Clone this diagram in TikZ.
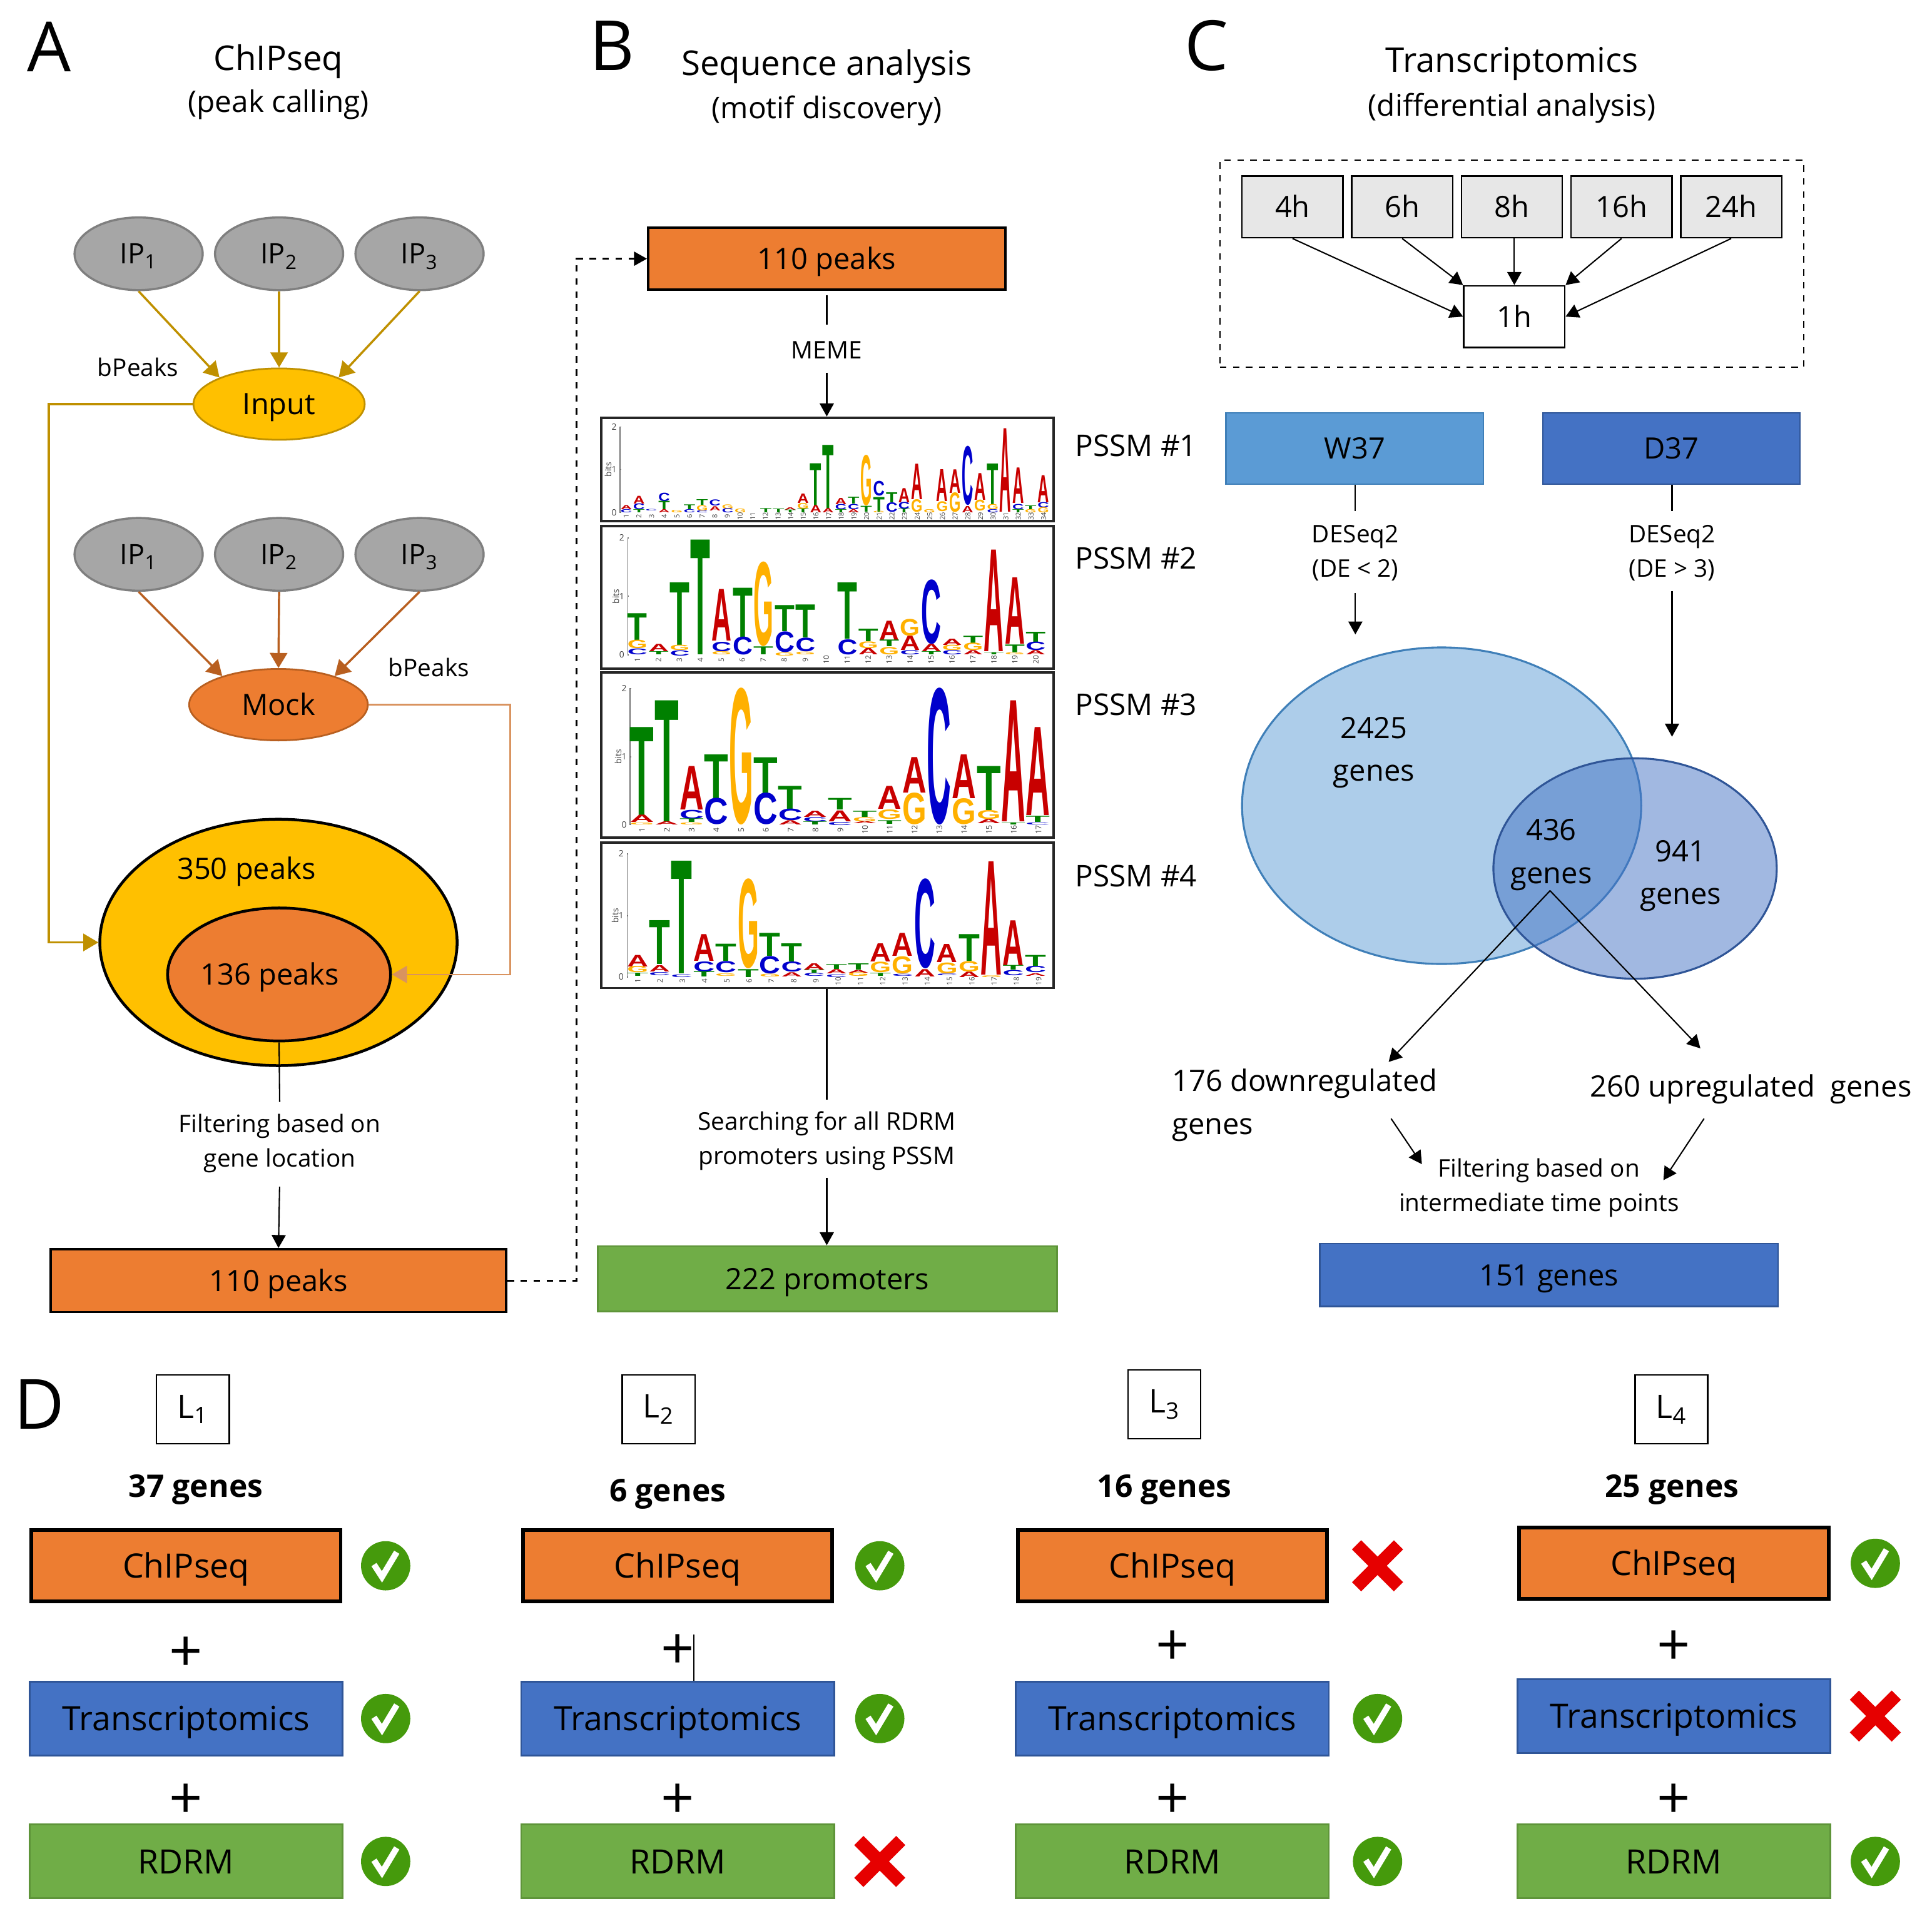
\documentclass[tikz,border=0pt]{standalone}
\usepackage{fontspec}
\usetikzlibrary{arrows.meta,positioning,shapes.geometric}
\setmainfont{Open Sans}
\newfontfamily\logofont{Liberation Sans}

\definecolor{ipfill}{HTML}{A6A6A6}
\definecolor{ipedge}{HTML}{7F7F7F}
\definecolor{inputfill}{HTML}{FFC000}
\definecolor{inputline}{HTML}{BF9000}
\definecolor{mockfill}{HTML}{ED7D31}
\definecolor{mockline}{HTML}{B85F20}
\definecolor{mockthin}{HTML}{D9935F}
\definecolor{wfill}{HTML}{5B9BD5}
\definecolor{wedge}{HTML}{3F7FB8}
\definecolor{dfill}{HTML}{4472C4}
\definecolor{dedge}{HTML}{2F5597}
\definecolor{rfill}{HTML}{70AD47}
\definecolor{redge}{HTML}{5E9439}
\definecolor{tfill}{HTML}{E7E7E7}
\definecolor{okgreen}{HTML}{459A0C}
\definecolor{nored}{HTML}{E60000}
\definecolor{logoA}{HTML}{C80000}
\definecolor{logoC}{HTML}{0000CC}
\definecolor{logoG}{HTML}{FFB000}
\definecolor{logoT}{HTML}{008000}

\tikzset{
    lettertext/.style={font=\fontsize{32}{36}\selectfont},
    titletext/.style={font=\fontsize{15.8}{19}\selectfont},
    subtext/.style={font=\fontsize{13.8}{17}\selectfont},
    bodytext/.style={font=\fontsize{13.6}{19.8}\selectfont, align=center},
    smalltext/.style={font=\fontsize{11.2}{15.9}\selectfont, align=center},
    labeltext/.style={font=\fontsize{13.6}{16}\selectfont, text height=9.8pt, text depth=0pt},
    boxtext/.style={font=\fontsize{15.5}{19}\selectfont, text height=11.2pt, text depth=0pt},
    boldtext/.style={font=\fontsize{14.4}{18}\selectfont\bfseries},
    ipnode/.style={ellipse, draw=ipedge, fill=ipfill, line width=1pt, minimum width=2.08cm, minimum height=1.18cm, inner sep=0pt, font=\fontsize{13}{16}\selectfont, text height=9.3pt, text depth=0pt},
    peakbox/.style={draw=black, fill=mockfill, line width=1.1pt, inner sep=0pt, labeltext},
    timebox/.style={draw=black, fill=tfill, line width=.7pt, minimum width=1.64cm, minimum height=1cm, inner sep=0pt, labeltext},
    logobox/.style={draw=black!85, line width=1.1pt, inner sep=0pt, minimum width=7.34cm},
    chipbox/.style={draw=black, fill=mockfill, line width=1.7pt, minimum width=5.02cm, minimum height=1.16cm, inner sep=0pt, boxtext},
    transbox/.style={draw=dedge, fill=dfill, line width=.8pt, minimum width=5.08cm, minimum height=1.2cm, inner sep=0pt, boxtext},
    rdrmbox/.style={draw=redge, fill=rfill, line width=.8pt, minimum width=5.08cm, minimum height=1.2cm, inner sep=0pt, boxtext},
    locbox/.style={draw=black, line width=.7pt, minimum width=1.18cm, minimum height=1.12cm, inner sep=0pt, font=\fontsize{15}{18}\selectfont},
    plussign/.style={font=\fontsize{27}{30}\selectfont, inner sep=0pt},
    thinarrow/.style={-{Triangle[width=6.5pt,length=6pt]}, line width=.6pt},
    goldarrow/.style={-{Triangle[width=8pt,length=7pt]}, draw=inputline, line width=1pt},
    rustarrow/.style={-{Triangle[width=8pt,length=7pt]}, draw=mockline, line width=1pt},
    okmark/.pic={
        \fill[okgreen] (0,0) circle [radius=.4cm];
        \draw[white, line width=2.8pt, line join=miter] (-9.5,-1) -- (-3,9) -- (9,-11);
    },
    nomark/.pic={
        \draw[nored, line width=6pt] (-17,-17) -- (17,17) (-17,17) -- (17,-17);
    }
}

% one stack of a logo per line: column, top, bottom, base
\newcommand{\logostack}[3]{
    \foreach \lx/\ltop/\lbot/\lbase [count=\li] in {#3} {
        \pgfmathsetlengthmacro\lwid{#2*0.00491cm}
        \pgfmathsetlengthmacro\lhgt{(\lbot-\ltop)*0.003386cm}
        \node[inner sep=0pt, outer sep=0pt, anchor=south] (#1-\li) at (\lx,\lbot)
            {\resizebox{\lwid}{\lhgt}{\logofont\bfseries\textcolor{logo\lbase}{\lbase}}};
    }
}
% y axis of a logo: x, top, middle, bottom
\newcommand{\logoaxis}[5]{
    \draw[black!55, line width=.5pt] (#1+4,#2) -- (#1,#2) -- (#1,#4) -- (#1+4,#4) (#1,#3) -- (#1+4,#3);
    \node[font=\fontsize{4}{4}\selectfont, inner sep=0pt, text=black!75] (#5-two) at (#1-20,#2) {2};
    \node[font=\fontsize{4}{4}\selectfont, inner sep=0pt, text=black!75] (#5-one) at (#1-20,#3) {1};
    \node[font=\fontsize{4}{4}\selectfont, inner sep=0pt, text=black!75] (#5-zero) at (#1-20,#4) {0};
    \node[font=\fontsize{4}{4}\selectfont, inner sep=0pt, rotate=90, text=black!75] (#5-bits) at (#1-40,#3) {bits};
}

\begin{document}
\begin{tikzpicture}[x=0.02cm, y=-0.02cm]
    \useasboundingbox (0,0) rectangle (1568,1554.8);

    % panel headings
    \node[lettertext] (letterA) at (40,38) {A};
    \node[lettertext] (letterB) at (497,37) {B};
    \node[lettertext] (letterC) at (979,37) {C};
    \node[lettertext] (letterD) at (32,1140) {D};
    \node[titletext] (titleA) at (226,50) {ChIPseq};
    \node[subtext] (subA) at (226,85) {(peak calling)};
    \node[titletext] (titleB) at (671,54) {Sequence analysis};
    \node[subtext] (subB) at (671,90) {(motif discovery)};
    \node[titletext] (titleC) at (1227,52) {Transcriptomics};
    \node[subtext] (subC) at (1227,88) {(differential analysis)};

    % ChIPseq
    \foreach \n/\xc in {1/112.5,2/226.5,3/340.5} {
        \node[ipnode] (inip\n) at (\xc,206) {IP\textsubscript{\n}};
        \node[ipnode] (mockip\n) at (\xc,450) {IP\textsubscript{\n}};
    }
    \node[ellipse, draw=inputline, fill=inputfill, line width=.8pt, minimum width=2.78cm, minimum height=1.16cm, inner sep=0pt, labeltext] (input) at (226.5,328) {Input};
    \node[ellipse, draw=mockline, fill=mockfill, line width=.8pt, minimum width=2.9cm, minimum height=1.16cm, inner sep=0pt, labeltext] (mock) at (226,572) {Mock};
    \node[smalltext] (bpeaksA) at (112,298) {bPeaks};
    \node[smalltext] (bpeaksB) at (348,542) {bPeaks};
    \draw[goldarrow] (inip1.south) -- (input.156);
    \draw[goldarrow] (inip2.south) -- (input.north);
    \draw[goldarrow] (inip3.south) -- (input.24);
    \draw[rustarrow] (mockip1.south) -- (mock.153);
    \draw[rustarrow] (mockip2.south) -- (mock.north);
    \draw[rustarrow] (mockip3.south) -- (mock.27);

    \node[ellipse, draw=black, fill=inputfill, line width=1.3pt, minimum width=5.8cm, minimum height=4cm, inner sep=0pt] (outerpeaks) at (226,765) {};
    \node[ellipse, draw=black, fill=mockfill, line width=1.3pt, minimum width=3.62cm, minimum height=2.16cm, inner sep=0pt] (innerpeaks) at (226.5,791) {};
    \node[labeltext] (outerlabel) at (200,705) {350 peaks};
    \node[labeltext] (innerlabel) at (219,791) {136 peaks};
    \coordinate (inputturn) at (39.5,765);
    \coordinate (mockturn) at (414,791);
    \draw[goldarrow] (input.west) -| (inputturn) -- (outerpeaks.west);
    \draw[-{Triangle[width=8pt,length=7pt]}, draw=mockthin, line width=.7pt] (mock.east) -| (mockturn) -- (innerpeaks.east);

    \node[smalltext] (filterA) at (227,928) {Filtering based on\\gene location};
    \node[peakbox, minimum width=7.4cm, minimum height=1.02cm] (peaksA) at (226,1039.5) {110 peaks};
    \draw[line width=.6pt, shorten >=2pt] (innerpeaks.south) -- (filterA.north);
    \draw[thinarrow, shorten <=3pt] (filterA.south) -- (peaksA.north);

    % sequence analysis
    \node[peakbox, minimum width=5.8cm, minimum height=1cm] (peaksB) at (671,210) {110 peaks};
    \coordinate (dashturn) at (468,210);
    \draw[thinarrow, dashed, line width=.8pt] (peaksA.east) -| (dashturn) -- (peaksB.west);
    \node[smalltext] (meme) at (671,284) {MEME};

    \node[logobox, minimum height=1.68cm] (logoA) at (671.5,381) {};
    \node[logobox, minimum height=2.32cm] (logoB) at (671.5,485) {};
    \node[logobox, minimum height=2.68cm] (logoC) at (671.5,613) {};
    \node[logobox, minimum height=2.36cm] (logoD) at (671.5,743) {};
    \draw[line width=.6pt, shorten <=2pt, shorten >=4pt] (peaksB.south -| meme.north) -- (meme.north);
    \draw[thinarrow, shorten <=3pt] (meme.south) -- (logoA.north -| meme.south);

    \node[subtext] (pssmA) at (922,362) {PSSM \#1};
    \node[subtext] (pssmB) at (922,453) {PSSM \#2};
    \node[subtext] (pssmC) at (922,572) {PSSM \#3};
    \node[subtext] (pssmD) at (922,711) {PSSM \#4};

    \begin{scope}[shift={(9.75cm,-6.702cm)}, x=0.00491cm, y=-0.003386cm]
        \logoaxis{65}{68}{272}{478}{axisA}
        \logostack{stackA}{38}{85/445/465/A,85/465/480/C,127/400/437/A,127/437/465/C,127/465/480/T,168/465/472/C,210/385/425/C,210/425/465/T,210/465/480/A,252/468/480/G,294/442/465/T,294/465/480/C,336/415/442/T,336/445/470/G,336/470/480/C,378/418/447/C,378/450/470/A,420/440/460/G,420/460/480/C,462/462/480/G,546/460/480/T,588/462/480/T,627/455/467/A,627/467/480/T,669/390/435/A,669/435/462/G,669/462/480/T,711/243/445/T,711/445/480/A,752/155/460/T,752/460/480/A,794/410/440/A,794/440/465/C,794/465/480/T,836/405/438/T,836/440/465/C,836/465/480/A,878/205/445/G,878/447/475/T,920/330/400/C,920/405/475/T,920/475/482/G,962/382/430/T,962/430/475/C,1003/362/430/A,1003/430/462/C,1003/462/480/T,1045/245/415/A,1045/418/478/G,1087/465/480/G,1129/272/425/A,1129/425/472/G,1171/272/385/A,1171/385/478/G,1213/165/445/C,1213/450/480/A,1254/292/420/A,1254/420/472/G,1296/245/440/T,1296/440/465/G,1296/465/480/C,1338/75/475/A,1380/265/435/A,1380/440/465/C,1380/465/480/T,1421/447/465/T,1421/465/480/G,1463/300/430/A,1463/430/455/C,1463/455/480/G}
        \foreach \n [count=\i from 0] in {1,...,34}
            \node[font=\fontsize{3.2}{3.2}\selectfont, rotate=90, inner sep=0pt, text=black!75] (tickA\n) at (85+\i*41.8,497) {\n};

        \logoaxis{90}{600}{880}{1160}{axisB}
        \logostack{stackB}{66}{122/962/1090/T,122/1090/1130/G,122/1132/1160/C,192/1110/1145/A,192/1145/1160/T,262/815/1115/T,262/1115/1140/G,262/1140/1165/C,330/610/1160/T,400/848/1095/A,400/1100/1145/C,400/1145/1160/G,470/840/1075/T,470/1075/1160/C,538/720/1120/G,538/1122/1160/T,608/925/1050/T,608/1052/1150/C,608/1150/1165/G,677/920/1078/T,677/1080/1145/C,677/1147/1160/G,816/815/1085/T,816/1088/1160/C,885/1038/1098/T,885/1098/1130/G,885/1130/1160/A,954/998/1090/A,954/1090/1122/T,954/1125/1160/G,1023/990/1070/G,1023/1072/1140/A,1023/1140/1160/C,1093/805/1110/C,1093/1110/1145/A,1093/1145/1160/T,1162/1085/1115/A,1162/1115/1140/G,1162/1140/1160/C,1231/1070/1105/T,1231/1105/1140/G,1231/1140/1160/A,1300/658/1145/A,1300/1150/1160/T,1369/792/1110/A,1369/1112/1150/T,1369/1150/1160/G,1438/1052/1100/T,1438/1100/1140/C,1438/1140/1160/A}
        \foreach \n [count=\i from 0] in {1,...,20}
            \node[font=\fontsize{3.4}{3.4}\selectfont, rotate=90, inner sep=0pt, text=black!75] (tickB\n) at (122+\i*69.3,1185) {\n};
    \end{scope}

    \begin{scope}[shift={(9.75cm,-10.968cm)}, x=0.00491cm, y=-0.003386cm]
        \logoaxis{98}{62}{390}{715}{axisC}
        \logostack{stackC}{80}{137/248/670/T,137/670/705/A,137/705/715/G,219/120/700/T,219/700/715/A,301/437/645/A,301/645/688/C,301/688/705/T,301/705/715/G,383/380/590/T,383/590/715/C,465/68/715/G,546/393/565/T,546/565/715/C,627/530/640/T,627/640/695/C,627/695/715/A,709/650/680/A,709/680/700/C,709/700/715/T,791/590/645/T,791/648/700/A,791/705/720/C,873/650/680/T,873/680/700/G,873/700/710/A,955/530/640/A,955/645/690/G,955/695/712/T,1037/392/562/A,1037/565/715/G,1119/68/715/C,1201/380/590/A,1201/592/715/G,1283/437/648/T,1283/648/690/G,1283/690/710/A,1364/120/700/A,1364/705/715/T,1445/248/670/A,1445/675/705/T,1445/705/715/C}
        \foreach \n [count=\i from 0] in {1,...,17}
            \node[font=\fontsize{3.6}{3.6}\selectfont, rotate=90, inner sep=0pt, text=black!75] (tickC\n) at (137+\i*81.9,740) {\n};

        \logoaxis{88}{855}{1152}{1445}{axisD}
        \logostack{stackD}{70}{123/1340/1395/A,123/1395/1425/G,123/1425/1440/T,195/1175/1385/T,195/1390/1420/A,195/1425/1440/C,268/890/1430/T,268/1435/1448/C,342/1240/1368/A,342/1372/1420/C,342/1420/1445/T,414/1288/1370/T,414/1372/1425/C,414/1430/1442/G,488/980/1405/G,488/1410/1448/T,560/1235/1345/T,560/1347/1430/C,560/1432/1445/G,632/1285/1372/T,632/1374/1422/C,632/1425/1445/A,706/1380/1410/A,706/1410/1425/T,706/1428/1442/C,780/1385/1408/T,780/1410/1430/A,780/1435/1448/C,852/1380/1410/T,852/1412/1425/A,852/1425/1442/G,925/1285/1372/A,925/1375/1425/G,925/1428/1442/T,998/1235/1345/A,998/1348/1430/G,998/1432/1442/C,1072/980/1405/C,1072/1410/1445/A,1145/1288/1375/A,1145/1378/1430/G,1145/1432/1440/C,1218/1240/1368/T,1218/1370/1420/G,1218/1422/1448/A,1292/892/1435/A,1292/1440/1448/G,1364/1175/1390/A,1364/1390/1412/T,1364/1415/1440/C,1437/1340/1392/T,1437/1395/1425/C,1437/1428/1440/A}
        \foreach \n [count=\i from 0] in {1,...,19}
            \node[font=\fontsize{3.4}{3.4}\selectfont, rotate=90, inner sep=0pt, text=black!75] (tickD\n) at (123+\i*73.6,1465) {\n};
    \end{scope}

    \node[smalltext] (searchB) at (671,926) {Searching for all RDRM\\promoters using PSSM};
    \node[draw=redge, fill=rfill, line width=.8pt, minimum width=7.46cm, minimum height=1.06cm, inner sep=0pt, labeltext] (promoters) at (671.5,1038) {222 promoters};
    \draw[line width=.6pt, shorten >=2pt] (logoD.south -| searchB.north) -- (searchB.north);
    \draw[thinarrow] (searchB.south) -- (promoters.north -| searchB.south);

    % transcriptomics
    \node[draw=black, dashed, line width=.7pt, minimum width=9.48cm, minimum height=3.36cm, inner sep=0pt] (timeframe) at (1227,214) {};
    \node[timebox] (t4) at (1049,168) {4h};
    \node[timebox] (t6) at (1138,168) {6h};
    \node[timebox] (t8) at (1227,168) {8h};
    \node[timebox] (t16) at (1316,168) {16h};
    \node[timebox] (t24) at (1405,168) {24h};
    \node[timebox, fill=white] (t1) at (1229,257) {1h};
    \draw[thinarrow] (t4.south) -- (t1.west);
    \draw[thinarrow] (t6.south) -- (t1.north west);
    \draw[thinarrow] (t8.south -| t1.north) -- (t1.north);
    \draw[thinarrow] (t16.south) -- (t1.north east);
    \draw[thinarrow] (t24.south) -- (t1.east);

    \node[draw=wedge, fill=wfill, line width=.7pt, minimum width=4.18cm, minimum height=1.16cm, inner sep=0pt, labeltext] (wbox) at (1099.5,364) {W37};
    \node[draw=dedge, fill=dfill, line width=.7pt, minimum width=4.18cm, minimum height=1.16cm, inner sep=0pt, labeltext] (dbox) at (1356.5,364) {D37};
    \node[smalltext] (deseqW) at (1100,449) {DESeq2\\(DE < 2)};
    \node[smalltext] (deseqD) at (1357,449) {DESeq2\\(DE > 3)};
    \coordinate (wtip) at (1100,515);
    \coordinate (dtip) at (1357,598);
    \draw[line width=.6pt, shorten >=3pt] (wbox.south -| deseqW.north) -- (deseqW.north);
    \draw[line width=.6pt, shorten >=3pt] (dbox.south -| deseqD.north) -- (deseqD.north);
    \draw[thinarrow, shorten <=2pt] (deseqW.south) -- (wtip);
    \draw[thinarrow, shorten <=1pt] (deseqD.south) -- (dtip);

    \node[ellipse, draw=wedge, fill=wfill, fill opacity=.5, line width=.9pt, minimum width=6.48cm, minimum height=5.14cm, inner sep=0pt] (vennW) at (1170,654) {};
    \node[ellipse, draw=dedge, fill=dfill, fill opacity=.5, line width=.9pt, minimum width=4.6cm, minimum height=3.58cm, inner sep=0pt] (vennD) at (1327,705) {};
    \node[bodytext] (countW) at (1115,611) {2425\\genes};
    \node[bodytext] (countShared) at (1259,694) {436\\genes};
    \node[bodytext] (countD) at (1364,711) {941\\genes};

    \coordinate (sharedfoot) at (1258,723);
    \node[bodytext, anchor=west, align=left] (down) at (945,897) {176 downregulated\\genes};
    \node[bodytext] (up) at (1421,884) {260 upregulated\ \ genes};
    \coordinate (downtip) at (1127,862);
    \coordinate (uptip) at (1380,851);
    \draw[thinarrow] (sharedfoot) -- (downtip);
    \draw[thinarrow] (sharedfoot) -- (uptip);

    \node[smalltext] (filterC) at (1249,964) {Filtering based on\\intermediate time points};
    \coordinate (downfoot) at (1129,908);
    \coordinate (downend) at (1154,945);
    \coordinate (upfoot) at (1383,908);
    \coordinate (upend) at (1350,958);
    \draw[thinarrow] (downfoot) -- (downend);
    \draw[thinarrow] (upfoot) -- (upend);
    \node[draw=dedge, fill=dfill, line width=.7pt, minimum width=7.44cm, minimum height=1.02cm, inner sep=0pt, labeltext] (genesC) at (1257,1035) {151 genes};

    % evidence columns
    \foreach \n/\xl/\yl/\gn/\xg/\yg/\xb/\xm/\dy/\yp/\ma/\mb/\mc in {
        1/156.5/1144/37/159/1209/151/313/0/1343/okmark/okmark/okmark,
        2/534.5/1144/6/542/1213/550/714/0/1341/okmark/okmark/nomark,
        3/945/1140/16/945/1209/951.5/1118/0/1338/nomark/okmark/okmark,
        4/1356.5/1144/25/1357/1209/1358.5/1522/2/1338/okmark/nomark/okmark} {
        \node[locbox] (loc\n) at (\xl,\yl) {L\textsubscript{\n}};
        \node[boldtext] (count\n) at (\xg,\yg) {\gn{} genes};
        \node[chipbox] (chip\n) at (\xb,1271-\dy) {ChIPseq};
        \node[transbox] (trans\n) at (\xb,1395-\dy) {Transcriptomics};
        \node[rdrmbox] (rdrm\n) at (\xb,1511) {RDRM};
        \node[plussign] (plusA\n) at (\xb,\yp) {+};
        \node[plussign] (plusB\n) at (\xb,1462) {+};
        \pic at (\xm,1271-\dy) {\ma};
        \pic at (\xm,1395-\dy) {\mb};
        \pic at (\xm,1511) {\mc};
    }
    \coordinate (caret) at (563,1327);
    \draw[line width=.5pt] (caret) -- (caret |- trans2.north);
\end{tikzpicture}
\end{document}
